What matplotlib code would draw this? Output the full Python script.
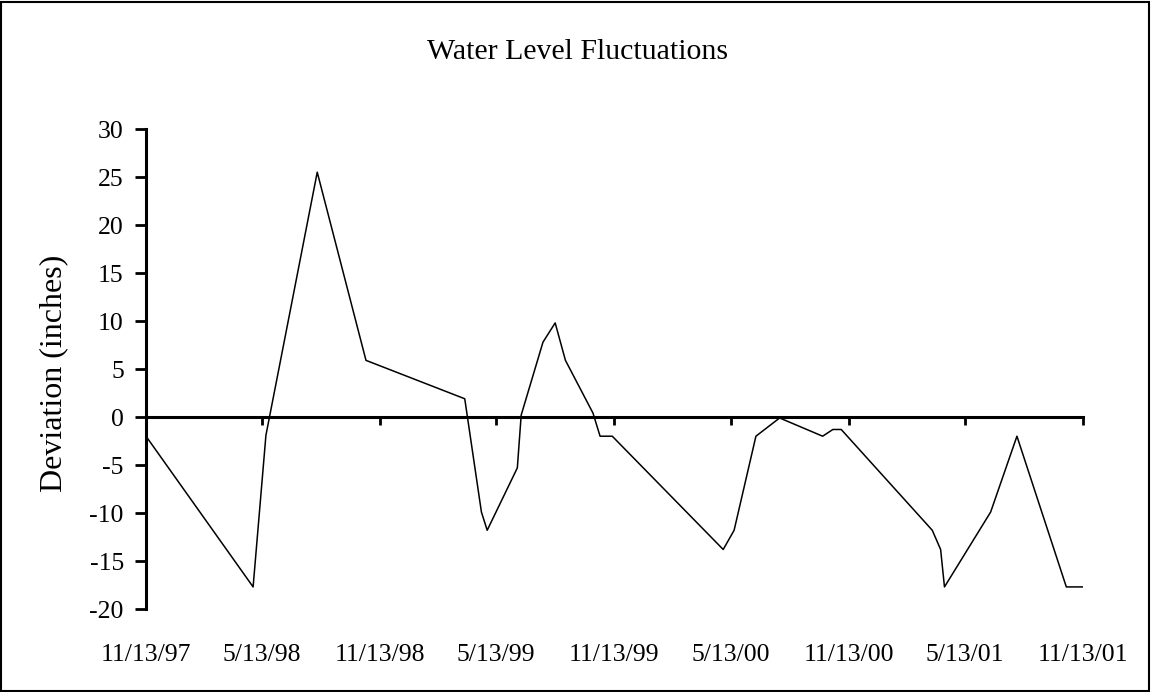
import matplotlib
matplotlib.use('Agg')
import matplotlib.pyplot as plt
import matplotlib.dates as mdates
import matplotlib.transforms as mtransforms
import pandas as pd

# readings (date, deviation in inches)
dates = ['1997-11-13', '1998-04-29', '1998-05-19', '1998-08-07', '1998-10-22',
         '1999-03-25', '1999-04-20', '1999-04-29', '1999-06-15', '1999-06-21',
         '1999-07-25', '1999-08-13', '1999-08-29', '1999-10-11', '1999-10-22',
         '1999-11-10', '2000-05-01', '2000-05-18', '2000-06-21', '2000-07-28',
         '2000-10-03', '2000-10-19', '2000-11-01', '2001-03-23', '2001-04-05',
         '2001-04-11', '2001-06-22', '2001-08-02', '2001-10-18', '2001-11-16']
deviation = [-2, -17.7, -1.9, 25.5, 5.9,
             1.9, -9.9, -11.8, -5.3, 0.2,
             7.8, 9.8, 5.9, 0.4, -2,
             -2, -13.8, -11.8, -2, -0.1,
             -2, -1.3, -1.3, -11.8, -13.8,
             -17.7, -9.9, -2, -17.7, -17.7]

tick_dates = ['1997-11-13', '1998-05-13', '1998-11-13', '1999-05-13', '1999-11-13',
              '2000-05-13', '2000-11-13', '2001-05-13', '2001-11-13']
tick_labels = ['11/13/97', '5/13/98', '11/13/98', '5/13/99', '11/13/99',
               '5/13/00', '11/13/00', '5/13/01', '11/13/01']
y_ticks = [30, 25, 20, 15, 10, 5, 0, -5, -10, -15, -20]

plt.rcParams['font.family'] = ['Liberation Serif', 'DejaVu Serif']

W, H = 1151, 692
fig = plt.figure(figsize=(W / 100, H / 100), dpi=100)
ax = fig.add_axes([146 / W, 1 - 609 / H, (1083 - 146) / W, (609 - 129) / H])

x = pd.to_datetime(dates)
ax.plot(x, deviation, color='black', lw=1.1)

tx = pd.to_datetime(tick_dates)
ax.set_xlim(tx[0], tx[-1])
ax.set_ylim(-20, 30)
ax.set_yticks(y_ticks)
ax.set_yticklabels([str(v) for v in y_ticks], fontsize=18.5)

for s in ['top', 'right']:
    ax.spines[s].set_visible(False)
ax.spines['left'].set_linewidth(2.2)
ax.spines['bottom'].set_position(('data', 0))
ax.spines['bottom'].set_linewidth(2.2)

ax.set_xticks(tx)
ax.set_xticklabels([])
ax.tick_params(axis='x', direction='out', length=6, width=2)
ax.tick_params(axis='y', direction='out', length=8, width=2, pad=8)

# date labels sit below the plot, not on the zero line
trans = mtransforms.blended_transform_factory(ax.transData, fig.transFigure)
for d, lab in zip(tx, tick_labels):
    ax.text(mdates.date2num(d), 1 - 661 / H, lab, transform=trans,
            ha='center', va='baseline', fontsize=18.5)

fig.text(578 / W, 1 - 59 / H, 'Water Level Fluctuations', ha='center', va='baseline', fontsize=21.5)
fig.text(54 / W, 1 - 373 / H, 'Deviation (inches)', ha='center', va='center',
         rotation=90, fontsize=23)

# outer chart border
fig.patches.append(plt.Rectangle((1 / W, 1 / H), 1 - 3 / W, 1 - 3 / H, transform=fig.transFigure,
                                 fill=False, edgecolor='black', lw=1.5))

fig.savefig('out.png', dpi=100)
plt.close()
